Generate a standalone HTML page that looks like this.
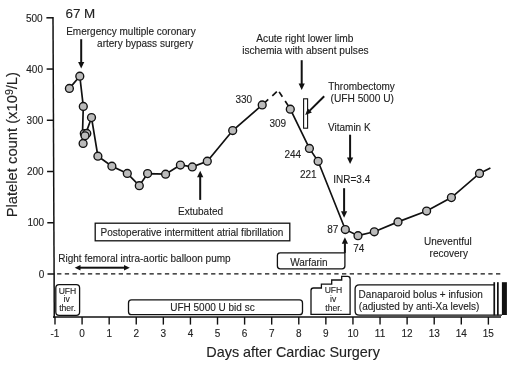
<!DOCTYPE html>
<html><head><meta charset="utf-8">
<style>
html,body{margin:0;padding:0;background:#fff;width:520px;height:365px;overflow:hidden}
svg{position:absolute;left:0;top:0;will-change:transform}
text{font-family:"Liberation Sans",sans-serif;fill:#222;stroke:#222;stroke-width:0.12px}
</style></head><body>
<svg width="520" height="365" viewBox="0 0 520 365">
<g stroke="#111" fill="none" stroke-width="1.5">
<!-- y axis -->
<line x1="53.0" y1="17" x2="54.29" y2="317.9"/>
<!-- x axis -->
<line x1="53" y1="317.1" x2="501" y2="317.1"/>
<!-- y ticks -->
<line x1="46.40" y1="17.80" x2="53.00" y2="17.80"/>
<line x1="46.62" y1="69.04" x2="53.22" y2="69.04"/>
<line x1="46.84" y1="120.28" x2="53.44" y2="120.28"/>
<line x1="47.06" y1="171.52" x2="53.66" y2="171.52"/>
<line x1="47.28" y1="222.76" x2="53.88" y2="222.76"/>
<line x1="47.50" y1="274.00" x2="54.10" y2="274.00"/>
</g>
<g stroke="#111" stroke-width="1.4"><line x1="54.99" y1="317" x2="54.99" y2="324.6"/><line x1="82.08" y1="317" x2="82.08" y2="324.6"/><line x1="109.17" y1="317" x2="109.17" y2="324.6"/><line x1="136.25" y1="317" x2="136.25" y2="324.6"/><line x1="163.34" y1="317" x2="163.34" y2="324.6"/><line x1="190.43" y1="317" x2="190.43" y2="324.6"/><line x1="217.51" y1="317" x2="217.51" y2="324.6"/><line x1="244.60" y1="317" x2="244.60" y2="324.6"/><line x1="271.69" y1="317" x2="271.69" y2="324.6"/><line x1="298.78" y1="317" x2="298.78" y2="324.6"/><line x1="325.86" y1="317" x2="325.86" y2="324.6"/><line x1="352.95" y1="317" x2="352.95" y2="324.6"/><line x1="380.04" y1="317" x2="380.04" y2="324.6"/><line x1="407.12" y1="317" x2="407.12" y2="324.6"/><line x1="434.21" y1="317" x2="434.21" y2="324.6"/><line x1="461.30" y1="317" x2="461.30" y2="324.6"/><line x1="488.38" y1="317" x2="488.38" y2="324.6"/></g>
<!-- zero dashed line -->
<line x1="57.1" y1="273.9" x2="500.6" y2="273.9" stroke="#111" stroke-width="1.4" stroke-dasharray="4.3 3.4"/>

<!-- y labels -->
<g font-size="10" text-anchor="end">
<text x="42.7" y="22.1">500</text>
<text x="43.0" y="72.6">400</text>
<text x="43.3" y="123.9">300</text>
<text x="43.7" y="175.1">200</text>
<text x="44.2" y="226.4">100</text>
<text x="44.4" y="277.6">0</text>
</g>
<g font-size="10" text-anchor="middle"><text x="54.99" y="336.5">-1</text><text x="82.08" y="336.5">0</text><text x="109.17" y="336.5">1</text><text x="136.25" y="336.5">2</text><text x="163.34" y="336.5">3</text><text x="190.43" y="336.5">4</text><text x="217.51" y="336.5">5</text><text x="244.60" y="336.5">6</text><text x="271.69" y="336.5">7</text><text x="298.78" y="336.5">8</text><text x="325.86" y="336.5">9</text><text x="352.95" y="336.5">10</text><text x="380.04" y="336.5">11</text><text x="407.12" y="336.5">12</text><text x="434.21" y="336.5">13</text><text x="461.30" y="336.5">14</text><text x="488.38" y="336.5">15</text></g>

<text font-size="14.4" x="206.3" y="356.6">Days after Cardiac Surgery</text>
<text font-size="14" transform="translate(17.4,217.3) rotate(-90)" textLength="145.3" lengthAdjust="spacingAndGlyphs">Platelet count (x10<tspan font-size="10" dy="-4.5">9</tspan><tspan dy="4.5">/L)</tspan></text>

<!-- data line -->
<g stroke="#111" stroke-width="1.7" fill="none">
<polyline points="69.4,88.4 79.8,76.2 83.3,106.4 82.6,130 83.1,143.4 84.3,133.6 86.8,133.4 85,135.8 91.5,117.6 97.9,156.2 111.9,166.2 127.3,173.4 139.3,185.7 147.6,173.6 165.6,174.2 180.4,165 192.3,166.9 207.3,161.2 232.7,130.5 262.2,104.9"/>
<polyline points="262.4,104.8 278.2,90.4 290.4,109.1" stroke-dasharray="7.9 5.5 6.1 3.6 5.9 5.1 30"/>
<polyline points="290.3,109.2 309.4,148.4 318.1,161.3 345.3,229.5 358,235.7 374.3,231.8 398,221.9 426.6,211 451.4,197.6 479.5,173.4 490.4,168"/>
</g>
<g fill="#bbbbbb" stroke="#111" stroke-width="1.35">
<circle cx="69.4" cy="88.4" r="3.95"/>
<circle cx="79.8" cy="76.2" r="3.95"/>
<circle cx="83.3" cy="106.4" r="3.95"/>
<circle cx="83.1" cy="143.4" r="3.95"/>
<circle cx="84.3" cy="133.6" r="3.95"/>
<circle cx="86.8" cy="133.4" r="3.95"/>
<circle cx="85" cy="135.8" r="3.95"/>
<circle cx="91.5" cy="117.6" r="3.95"/>
<circle cx="97.9" cy="156.2" r="3.95"/>
<circle cx="111.9" cy="166.2" r="3.95"/>
<circle cx="127.3" cy="173.4" r="3.95"/>
<circle cx="139.3" cy="185.7" r="3.95"/>
<circle cx="147.6" cy="173.6" r="3.95"/>
<circle cx="165.6" cy="174.2" r="3.95"/>
<circle cx="180.4" cy="165" r="3.95"/>
<circle cx="192.3" cy="166.9" r="3.95"/>
<circle cx="207.3" cy="161.2" r="3.95"/>
<circle cx="232.7" cy="130.5" r="3.95"/>
<circle cx="262.2" cy="104.9" r="3.95"/>
<circle cx="290.3" cy="109.2" r="3.95"/>
<circle cx="309.4" cy="148.4" r="3.95"/>
<circle cx="318.1" cy="161.3" r="3.95"/>
<circle cx="345.3" cy="229.5" r="3.95"/>
<circle cx="358" cy="235.7" r="3.95"/>
<circle cx="374.3" cy="231.8" r="3.95"/>
<circle cx="398" cy="221.9" r="3.95"/>
<circle cx="426.6" cy="211" r="3.95"/>
<circle cx="451.4" cy="197.6" r="3.95"/>
<circle cx="479.5" cy="173.4" r="3.95"/>
</g>

<!-- thrombectomy rect -->
<rect x="303.6" y="98.8" width="4.0" height="29.4" fill="#fff" stroke="#111" stroke-width="1.1"/>
<!-- arrows -->
<g stroke="#111" stroke-width="2" fill="none">
<line x1="81.20" y1="39.20" x2="81.20" y2="62.60"/>
<line x1="200.20" y1="199.90" x2="200.20" y2="176.70"/>
<line x1="301.70" y1="60.20" x2="301.70" y2="84.00"/>
<line x1="350.10" y1="134.70" x2="350.10" y2="158.00"/>
<line x1="344.10" y1="188.20" x2="344.10" y2="211.70"/>
<line x1="344.90" y1="252.80" x2="344.90" y2="243.20"/>
<line x1="102.00" y1="267.70" x2="80.00" y2="267.70"/>
<line x1="102.00" y1="267.70" x2="124.50" y2="267.70"/>
<line x1="324.20" y1="96.30" x2="309.47" y2="110.88"/>
</g>
<g fill="#111">
<path d="M78.10,62.10 L81.20,68.60 L84.30,62.10 z"/>
<path d="M203.30,177.20 L200.20,170.70 L197.10,177.20 z"/>
<path d="M298.60,83.50 L301.70,90.00 L304.80,83.50 z"/>
<path d="M347.00,157.50 L350.10,164.00 L353.20,157.50 z"/>
<path d="M341.00,211.20 L344.10,217.70 L347.20,211.20 z"/>
<path d="M348.00,243.70 L344.90,237.20 L341.80,243.70 z"/>
<path d="M80.50,265.00 L74.70,267.70 L80.50,270.40 z"/>
<path d="M124.00,270.40 L129.80,267.70 L124.00,265.00 z"/>
<path d="M307.78,108.47 L305.20,115.10 L311.86,112.59 z"/>
</g>
<!-- annotation text -->
<g font-size="10">
<text x="65.5" y="17.7" font-size="13.4">67 M</text>
<text x="66.2" y="35">Emergency multiple coronary</text>
<text x="97.1" y="46.9">artery bypass surgery</text>
<text x="256.3" y="42.3" font-size="10.17">Acute right lower limb</text>
<text x="242.2" y="53.7" font-size="10.17">ischemia with absent pulses</text>
<text x="328.2" y="90">Thrombectomy</text>
<text x="330.5" y="102.3" font-size="10.2">(UFH 5000 U)</text>
<text x="328" y="130.7">Vitamin K</text>
<text x="235.4" y="103.2">330</text>
<text x="269.5" y="126.5">309</text>
<text x="284.4" y="158.4">244</text>
<text x="300.0" y="178.1">221</text>
<text x="333.3" y="183">INR=3.4</text>
<text x="327.2" y="232.8">87</text>
<text x="353.3" y="252.4">74</text>
<text x="178.0" y="214.6">Extubated</text>
<text x="100.5" y="236.4">Postoperative intermittent atrial fibrillation</text>
<text x="58.3" y="261.8">Right femoral intra-aortic balloon pump</text>
<text x="290.2" y="266.0">Warfarin</text>
<text x="424.0" y="245.3">Uneventful</text>
<text x="429.6" y="256.6">recovery</text>
<text x="170.2" y="311.2">UFH 5000 U bid sc</text>
<text x="358.6" y="298.4">Danaparoid bolus + infusion</text>
<text x="358.8" y="310.1">(adjusted by anti-Xa levels)</text>
</g>
<g font-size="8.6" text-anchor="middle">
<text x="67.5" y="293.7">UFH</text>
<text x="66.7" y="301.9">iv</text>
<text x="67.5" y="310.7">ther.</text>
<text x="333.5" y="293.3">UFH</text>
<text x="333.2" y="301.5">iv</text>
<text x="333.7" y="310.7">ther.</text>
</g>

<!-- boxes -->
<g fill="none" stroke="#111" stroke-width="1.3">
<rect x="95.2" y="223.2" width="194.6" height="17.6"/>
<path d="M344.9,252.9 L280.2,252.9 Q277.4,252.9 277.4,255.7 L277.4,266.1 Q277.4,268.9 280.2,268.9 L342.1,268.9 Q344.9,268.9 344.9,266.1 L344.9,252"/>
<rect x="55.8" y="284.7" width="23.8" height="30.6" rx="3.3"/>
<rect x="128.5" y="299.9" width="174" height="14.8" rx="3"/>
<path d="M494,284.9 L359.3,284.9 Q355.1,284.9 355.1,289.1 L355.1,310.9 Q355.1,315.1 359.3,315.1 L502,315.1"/>
<path d="M311,314.4 L311,290.5 Q311,288 313.5,288 L321.4,288 L321.4,284.2 L331.7,284.2 L331.7,280 L341.7,280 L341.7,276.4 L347.6,276.4 Q350.1,276.4 350.1,279 L350.1,314.4 Z"/>
</g>
<!-- bars at right -->
<g fill="#111">
<rect x="493.4" y="282.2" width="1.7" height="33.2"/>
<rect x="497" y="282.2" width="1.7" height="33.2"/>
<rect x="501.9" y="282.2" width="5" height="32.8"/>
</g>
</svg>
</body></html>
